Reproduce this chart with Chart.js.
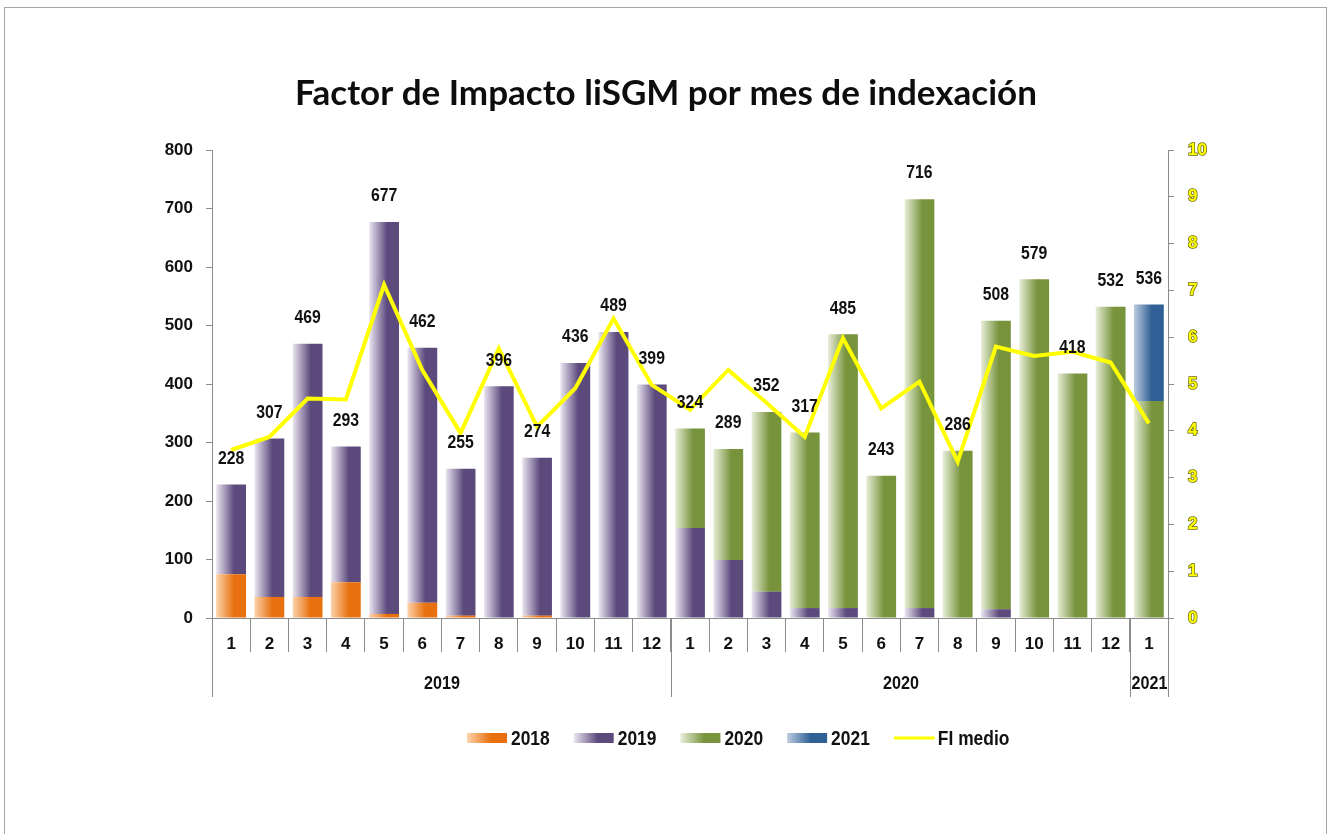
<!DOCTYPE html>
<html lang="es">
<head>
<meta charset="UTF-8">
<title>Factor de Impacto liSGM por mes de indexación</title>
<script src="https://cdn.jsdelivr.net/npm/chart.js@4.4.1/dist/chart.umd.min.js"></script>
<style>
  body { margin: 0; background: #fff; overflow: hidden; }
  .frame { position: absolute; left: 4px; top: 7px; width: 1321px; height: 840px; border: 1px solid #a6a6a6; border-bottom: none; }
  #wrap { position: absolute; left: 0; top: 0; width: 1328px; height: 834px; }
</style>
</head>
<body>
<div class="frame"></div>
<div id="wrap"><canvas id="chart" width="1328" height="834"></canvas></div>
<script>
// month of indexation, grouped by year
const months = ['1','2','3','4','5','6','7','8','9','10','11','12',
                '1','2','3','4','5','6','7','8','9','10','11','12','1'];
const years = ['2019', '2020', '2021'];
const yearSpan = [12, 12, 1];

// articles by publication year (stacked)
const v2018 = [75, 36, 36, 61, 7, 26, 4, 0, 4, 0, 0, 0,
               0, 0, 0, 0, 0, 0, 0, 0, 0, 0, 0, 0, 0];
const v2019 = [153, 271, 433, 232, 670, 436, 251, 396, 270, 436, 489, 399,
               154, 99, 45, 17, 17, 0, 17, 0, 15, 0, 0, 0, 0];
const v2020 = [0, 0, 0, 0, 0, 0, 0, 0, 0, 0, 0, 0,
               170, 190, 307, 300, 468, 243, 699, 286, 493, 579, 418, 532, 371];
const v2021 = [0, 0, 0, 0, 0, 0, 0, 0, 0, 0, 0, 0,
               0, 0, 0, 0, 0, 0, 0, 0, 0, 0, 0, 0, 165];

// mean impact factor (right axis)
const fiMedio = [3.59, 3.87, 4.69, 4.67, 7.12, 5.30, 3.95, 5.76, 4.09, 4.91, 6.40, 4.98,
                 4.45, 5.30, 4.60, 3.87, 5.98, 4.48, 5.05, 3.34, 5.80, 5.60, 5.69, 5.46, 4.16];

const TITLE = 'Factor de Impacto liSGM por mes de indexación';
const NARROW = '"Liberation Sans Narrow", "Arial Narrow", "Liberation Sans", sans-serif';
const AXIS = '#8c8c8c';
const barPct = 0.78;

const palette = {
  '2018': ['#fcd3ac', '#e8700e'],
  '2019': ['#ebe6f1', '#5c4a7d'],
  '2020': ['#e8eed8', '#77933c'],
  '2021': ['#bccbe0', '#2f5f94']
};

function hGrad(ctx, x0, x1, light, dark) {
  const g = ctx.createLinearGradient(x0, 0, x1, 0);
  g.addColorStop(0, light);
  g.addColorStop(0.6, dark);
  g.addColorStop(1, dark);
  return g;
}

// each bar gets its own left-to-right gradient
function shade(year) {
  const [light, dark] = palette[year];
  return function (c) {
    const chart = c.chart, x = chart.scales.x;
    if (!chart.chartArea || !x || c.dataIndex === undefined) return dark;
    const cx = x.getPixelForValue(c.dataIndex);
    const half = (x.width / months.length) * barPct / 2;
    return hGrad(chart.ctx, cx - half, cx + half, light, dark);
  };
}

function bar(label, data) {
  return {
    type: 'bar', label: label, data: data, order: 1,
    backgroundColor: shade(label), borderWidth: 0,
    barPercentage: barPct, categoryPercentage: 1
  };
}

// condensed look: squeeze the text horizontally
function narrowText(ctx, text, x, y, squeeze) {
  ctx.save();
  ctx.translate(x, y);
  ctx.scale(squeeze, 1);
  ctx.fillText(text, 0, 0);
  ctx.restore();
}

const extras = {
  id: 'extras',
  afterDraw(chart) {
    const { ctx, scales: { x, y } } = chart;
    const bars = chart.data.datasets.filter(d => d.type === 'bar');
    ctx.save();

    // title, centred on the page rather than on the plot
    ctx.font = 'bold 35px Lato';
    ctx.fillStyle = '#0d0d0d';
    ctx.textAlign = 'center';
    ctx.textBaseline = 'middle';
    ctx.fillText(TITLE, 666, 94);

    // totals above each bar
    ctx.font = 'bold 19px ' + NARROW;
    ctx.fillStyle = '#111';
    months.forEach((m, i) => {
      const total = bars.reduce((s, d) => s + (d.data[i] || 0), 0);
      narrowText(ctx, String(total), x.getPixelForValue(i), y.getPixelForValue(total) - 26, 0.83);
    });

    // year row under the month labels
    const step = x.width / months.length;
    const edge = i => Math.round(x.left + i * step) + 0.5;
    ctx.strokeStyle = AXIS;
    ctx.lineWidth = 1;
    ctx.font = 'bold 19px ' + NARROW;
    ctx.beginPath();
    ctx.moveTo(edge(0), y.bottom);
    ctx.lineTo(edge(0), y.bottom + 79);
    let start = 0;
    years.forEach((yr, k) => {
      const end = start + yearSpan[k];
      ctx.moveTo(edge(end), y.bottom);
      ctx.lineTo(edge(end), y.bottom + 79);
      narrowText(ctx, yr, (edge(start) + edge(end)) / 2, y.bottom + 66, 0.85);
      start = end;
    });
    ctx.stroke();

    // legend
    ctx.font = 'bold 20px ' + NARROW;
    ctx.textAlign = 'left';
    const ly = 738;
    let lx = 467;
    chart.data.datasets.forEach(d => {
      if (d.type === 'bar') {
        const [light, dark] = palette[d.label];
        ctx.fillStyle = hGrad(ctx, lx, lx + 40, light, dark);
        ctx.fillRect(lx, ly - 5, 40, 10);
      } else {
        ctx.strokeStyle = d.borderColor;
        ctx.lineWidth = 3;
        ctx.beginPath();
        ctx.moveTo(lx, ly);
        ctx.lineTo(lx + 41, ly);
        ctx.stroke();
      }
      ctx.fillStyle = '#111';
      narrowText(ctx, d.label, lx + 44, ly + 1, 0.87);
      lx += 44 + ctx.measureText(d.label).width * 0.87 + 24;
    });

    ctx.restore();
  }
};

new Chart(document.getElementById('chart'), {
  data: {
    labels: months,
    datasets: [
      bar('2018', v2018),
      bar('2019', v2019),
      bar('2020', v2020),
      bar('2021', v2021),
      {
        type: 'line', label: 'FI medio', data: fiMedio, yAxisID: 'y1', order: 0,
        borderColor: '#ffff00', borderWidth: 4, pointRadius: 0, tension: 0
      }
    ]
  },
  options: {
    responsive: false,
    animation: false,
    layout: { padding: { left: 150, right: 100, top: 150, bottom: 182 } },
    plugins: {
      legend: { display: false },
      tooltip: { enabled: false }
    },
    scales: {
      x: {
        stacked: true,
        grid: { offset: true, drawOnChartArea: false, tickLength: 34, color: AXIS },
        border: { color: AXIS },
        ticks: { color: '#111', font: { family: NARROW, size: 17, weight: 'bold' },
                 padding: -18, maxRotation: 0, autoSkip: false },
        afterFit(s) { s.height = 34; }
      },
      y: {
        stacked: true, min: 0, max: 800,
        grid: { drawOnChartArea: false, tickLength: 6, color: AXIS },
        border: { color: AXIS },
        ticks: { stepSize: 100, color: '#111', padding: 13,
                 font: { family: NARROW, size: 17, weight: 'bold' } },
        afterFit(s) { s.width = 62; }
      },
      y1: {
        position: 'right', min: 0, max: 10,
        grid: { drawOnChartArea: false, tickLength: 6, color: AXIS },
        border: { color: AXIS },
        ticks: { stepSize: 1, color: '#ffff00', textStrokeColor: '#6b6b10', textStrokeWidth: 1.5,
                 padding: 14, font: { family: NARROW, size: 17, weight: 'bold' } },
        afterFit(s) { s.width = 60; }
      }
    }
  },
  plugins: [extras]
});
</script>
</body>
</html>
